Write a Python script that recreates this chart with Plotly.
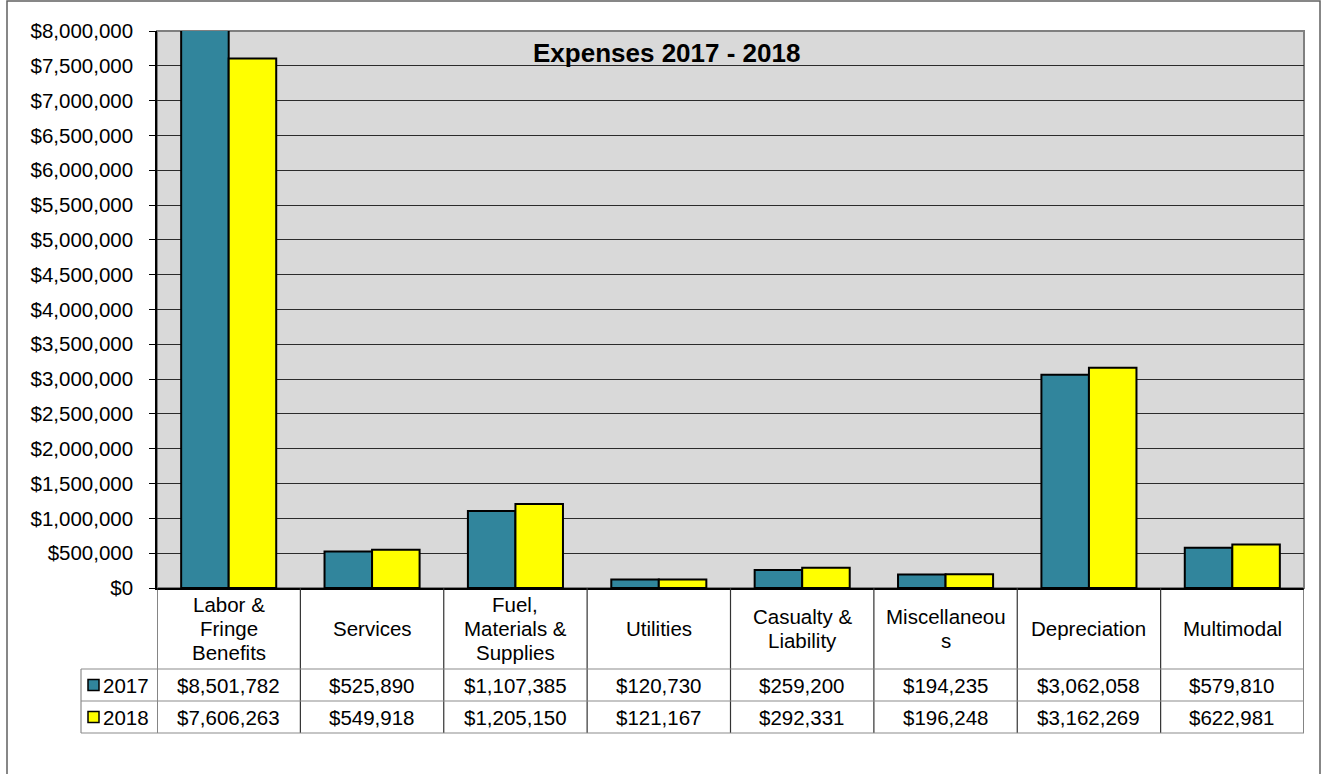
import plotly.graph_objects as go

# ---------------- data ----------------
categories = ["Labor & Fringe Benefits", "Services", "Fuel, Materials & Supplies",
              "Utilities", "Casualty & Liability", "Miscellaneous",
              "Depreciation", "Multimodal"]
header_lines = [["Labor &", "Fringe", "Benefits"], ["Services"],
                ["Fuel,", "Materials &", "Supplies"], ["Utilities"],
                ["Casualty &", "Liability"], ["Miscellaneou", "s"],
                ["Depreciation"], ["Multimodal"]]
series_names = ["2017", "2018"]
values_2017 = [8501782, 525890, 1107385, 120730, 259200, 194235, 3062058, 579810]
values_2018 = [7606263, 549918, 1205150, 121167, 292331, 196248, 3162269, 622981]
y_ticks = [0, 500000, 1000000, 1500000, 2000000, 2500000, 3000000, 3500000,
           4000000, 4500000, 5000000, 5500000, 6000000, 6500000, 7000000,
           7500000, 8000000]
title_text = "Expenses 2017 - 2018"

# ---------------- style ----------------
W, H = 1323, 774
L, R, T, B = 157, 19, 31, 186
PW = W - L - R
PH = H - T - B
FONT = "Arial, Liberation Sans, sans-serif"
FS = 20.5
colors = ["#31859C", "#FFFF00"]


def px_x(px):
    return (px - L) / PW


def px_y(py):
    return (H - B - py) / PH


def money(v):
    return "${:,}".format(v)


fig = go.Figure()
idx = list(range(len(categories)))
for name, vals, col in zip(series_names, [values_2017, values_2018], colors):
    fig.add_trace(go.Bar(
        x=idx, y=vals, name=name,
        marker=dict(color=col, line=dict(color="black", width=2)),
        hoverinfo="y", showlegend=False,
    ))

shapes = []
annotations = []

# plot area border (gray)
shapes.append(dict(type="rect", xref="paper", yref="paper", x0=0, x1=1, y0=0, y1=1,
                   line=dict(color="#808080", width=2), layer="below"))

# outer chart border
shapes.append(dict(type="rect", xref="paper", yref="paper",
                   x0=px_x(7), x1=px_x(1320), y0=px_y(800), y1=px_y(1),
                   line=dict(color="#606060", width=1.5)))

# data table geometry (pixels)
header_bottom = 669
row_mid = [685, 717]
row_bottom = 733
table_left = 81

# vertical lines at category boundaries
for i in range(len(categories) + 1):
    shapes.append(dict(type="line", xref="x", yref="paper",
                       x0=i - 0.5, x1=i - 0.5, y0=0, y1=px_y(row_bottom),
                       line=dict(color="#333333", width=1.2)))
# horizontal lines
for py in [header_bottom, 701, row_bottom]:
    shapes.append(dict(type="line", xref="paper", yref="paper",
                       x0=px_x(table_left), x1=1, y0=px_y(py), y1=px_y(py),
                       line=dict(color="#8c8c8c", width=1.2)))
# left border of legend column
shapes.append(dict(type="line", xref="paper", yref="paper",
                   x0=px_x(table_left), x1=px_x(table_left),
                   y0=px_y(header_bottom), y1=px_y(row_bottom),
                   line=dict(color="#8c8c8c", width=1.2)))

# legend keys and series labels
for k, (name, col) in enumerate(zip(series_names, colors)):
    cy = row_mid[k]
    shapes.append(dict(type="rect", xref="paper", yref="paper",
                       x0=px_x(88), x1=px_x(99), y0=px_y(cy + 5.5), y1=px_y(cy - 5.5),
                       fillcolor=col, line=dict(color="black", width=1.5)))
    annotations.append(dict(xref="paper", yref="paper", x=px_x(101), y=px_y(cy),
                            text=name, showarrow=False, xanchor="left", yanchor="middle",
                            font=dict(family=FONT, size=FS, color="black")))

# header labels (category names)
header_center = (588 + header_bottom) / 2
line_step = 24
for i, lines in enumerate(header_lines):
    n = len(lines)
    for j, ln in enumerate(lines):
        cy = header_center + (j - (n - 1) / 2) * line_step
        annotations.append(dict(xref="x", yref="paper", x=i, y=px_y(cy),
                                text=ln, showarrow=False, xanchor="center", yanchor="middle",
                                font=dict(family=FONT, size=FS, color="black")))

# values
for k, vals in enumerate([values_2017, values_2018]):
    for i, v in enumerate(vals):
        annotations.append(dict(xref="x", yref="paper", x=i, y=px_y(row_mid[k]),
                                text=money(v), showarrow=False,
                                xanchor="center", yanchor="middle",
                                font=dict(family=FONT, size=FS, color="black")))

# title inside plot area
annotations.append(dict(xref="paper", yref="paper", x=px_x(666), y=px_y(53),
                        text="<b>" + title_text + "</b>", showarrow=False,
                        xanchor="center", yanchor="middle",
                        font=dict(family=FONT, size=26, color="black")))

fig.update_layout(
    width=W, height=H, autosize=False,
    margin=dict(l=L, r=R, t=T, b=B, pad=0),
    paper_bgcolor="white", plot_bgcolor="#D9D9D9",
    barmode="group", bargap=0.337, bargroupgap=0,
    shapes=shapes, annotations=annotations,
    font=dict(family=FONT, size=FS, color="black"),
    xaxis=dict(range=[-0.5, len(categories) - 0.5], showticklabels=False,
               showgrid=False, zeroline=False, showline=True, linecolor="black",
               linewidth=1.5, ticks="", fixedrange=True),
    yaxis=dict(range=[0, 8000000], tickmode="array", tickvals=y_ticks,
               ticktext=[money(v) for v in y_ticks],
               showgrid=True, gridcolor="#2b2b2b", gridwidth=1,
               zeroline=False, showline=True, linecolor="black", linewidth=1.5,
               ticks="outside", ticklen=6, tickcolor="black", tickwidth=1.2,
               ticklabelstandoff=12,
               tickfont=dict(family=FONT, size=FS, color="black"), fixedrange=True),
)

fig.write_html("out.html", config={"displayModeBar": False},
               post_script="document.body.style.margin='0px';")
